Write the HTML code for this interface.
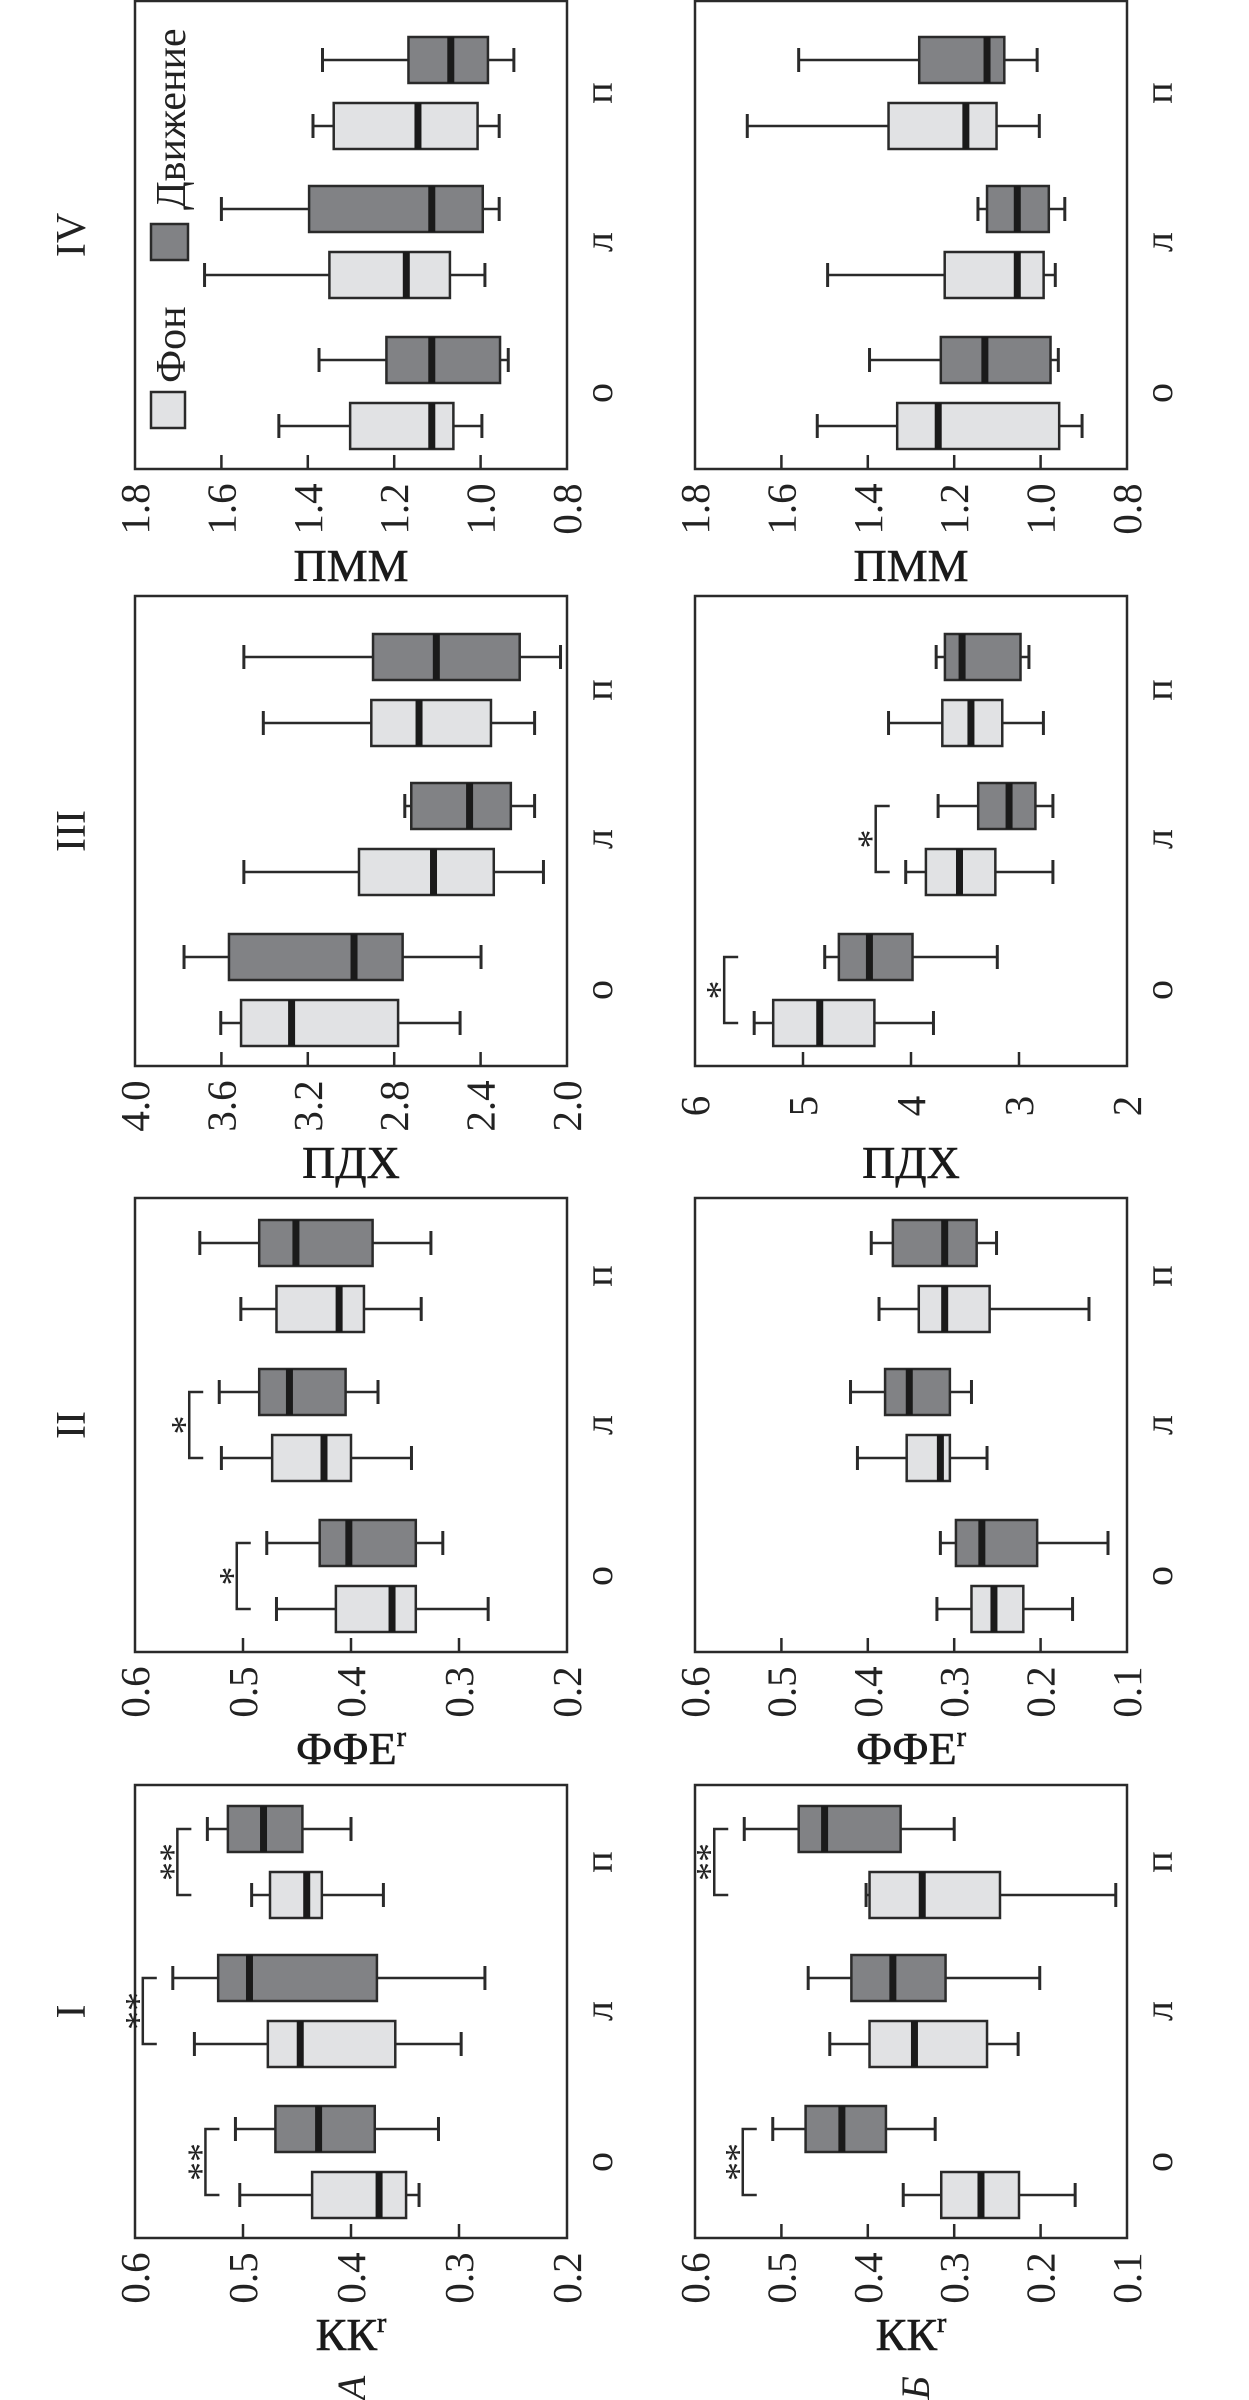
<!DOCTYPE html>
<html><head><meta charset="utf-8"><style>
html,body{margin:0;padding:0;background:#fff;}
svg{display:block;font-family:"Liberation Serif","DejaVu Serif",serif;}
</style></head><body>
<svg id="fig" width="1249" height="2400" viewBox="0 0 1249 2400" xmlns="http://www.w3.org/2000/svg">
<rect x="0" y="0" width="1249" height="2400" fill="#fff"/>
</svg>
<script>
// ---- data: each box = [min, q1, median, q3, max]; categories о, л, п ----
const categories = ["о", "л", "п"];
const seriesNames = ["Фон", "Движение"];
// Row A
const aI_fon  = [[0.337,0.349,0.374,0.436,0.503],[0.298,0.359,0.447,0.477,0.545],[0.370,0.427,0.441,0.475,0.492]];
const aI_dv   = [[0.319,0.378,0.430,0.470,0.507],[0.276,0.376,0.494,0.523,0.565],[0.400,0.445,0.481,0.514,0.533]];
const aII_fon = [[0.273,0.340,0.362,0.414,0.469],[0.344,0.400,0.425,0.473,0.520],[0.335,0.388,0.411,0.469,0.502]];
const aII_dv  = [[0.315,0.340,0.402,0.429,0.478],[0.375,0.405,0.457,0.485,0.522],[0.326,0.380,0.451,0.485,0.540]];
const aIII_fon= [[2.495,2.782,3.275,3.509,3.603],[2.109,2.339,2.618,2.963,3.496],[2.150,2.352,2.685,2.906,3.406]];
const aIII_dv = [[2.398,2.761,2.986,3.565,3.773],[2.150,2.260,2.451,2.721,2.751],[2.030,2.219,2.605,2.898,3.496]];
const aIV_fon = [[0.997,1.063,1.113,1.302,1.467],[0.990,1.071,1.172,1.350,1.639],[0.957,1.007,1.145,1.340,1.388]];
const aIV_dv  = [[0.936,0.955,1.113,1.218,1.374],[0.957,0.995,1.113,1.397,1.600],[0.923,0.983,1.069,1.167,1.366]];
// Row Б
const bI_fon  = [[0.160,0.225,0.269,0.315,0.359],[0.226,0.262,0.346,0.398,0.444],[0.113,0.247,0.337,0.398,0.402]];
const bI_dv   = [[0.322,0.379,0.430,0.472,0.510],[0.201,0.310,0.371,0.419,0.469],[0.300,0.362,0.450,0.480,0.543]];
const bII_fon = [[0.163,0.220,0.254,0.280,0.320],[0.262,0.305,0.316,0.355,0.412],[0.144,0.259,0.311,0.341,0.387]];
const bII_dv  = [[0.122,0.204,0.268,0.298,0.316],[0.280,0.305,0.352,0.380,0.420],[0.251,0.274,0.311,0.371,0.396]];
const bIII_fon= [[3.792,4.339,4.845,5.276,5.452],[2.686,3.219,3.551,3.862,4.049],[2.774,3.155,3.445,3.710,4.208]];
const bIII_dv = [[3.201,3.986,4.385,4.668,4.799],[2.686,2.848,3.092,3.378,3.749],[2.908,2.986,3.527,3.686,3.767]];
const bIV_fon = [[0.904,0.957,1.237,1.332,1.517],[0.966,0.993,1.054,1.222,1.493],[1.003,1.102,1.173,1.352,1.679]];
const bIV_dv  = [[0.959,0.977,1.129,1.231,1.396],[0.944,0.981,1.054,1.124,1.145],[1.008,1.084,1.124,1.281,1.560]];
// tick labels
const ticksPMM = ["1.8","1.6","1.4","1.2","1.0","0.8"];
const ticksHDP_A = ["4.0","3.6","3.2","2.8","2.4","2.0"];
const ticksHDP_B = ["6","5","4","3","2"];
const ticksA = ["0.6","0.5","0.4","0.3","0.2"];
const ticksB = ["0.6","0.5","0.4","0.3","0.2","0.1"];
// significance marks: [category index, stars]
const sigAI = [[0,"**"],[1,"**"],[2,"**"]];
const sigAII = [[0,"*"],[1,"*"]];
const sigBIII = [[0,"*"],[1,"*"]];
const sigBI = [[0,"**"],[2,"**"]];

const NS = "http://www.w3.org/2000/svg";
const svg = document.getElementById("fig");
function mk(tag, attrs, parent){
  const e = document.createElementNS(NS, tag);
  for (const k in attrs) e.setAttribute(k, attrs[k]);
  (parent||svg).appendChild(e);
  return e;
}
const LIGHT="#e1e2e4", DARK="#818285", STROKE="#2a2a2a";

function panel(cfg){
  const g = mk("g", {});
  
  
  const x0 = cfg.x0, x1 = cfg.x0 + 432, yTop = cfg.yTop, yBot = cfg.yBot;
  const vmax = parseFloat(cfg.ticks[0]), vmin = parseFloat(cfg.ticks[cfg.ticks.length-1]);
  const sx = v => x0 + (vmax - v) / (vmax - vmin) * (x1 - x0);
  const catY = [yBot-76, yBot-227, yBot-376];
  const fr = mk("rect", {x:x0, y:yTop, width:x1-x0, height:yBot-yTop, fill:"none", stroke:STROKE, "stroke-width":2.5}, g);
  
  
  // ticks
  cfg.ticks.forEach((t,i)=>{
    const x = sx(parseFloat(t));
    if (i>0 && i<cfg.ticks.length-1){
      const tl = mk("line", {x1:x, x2:x, y1:yBot, y2:yBot-14, stroke:STROKE, "stroke-width":2.5}, g);
      
      
    }
    const tx = mk("text", {transform:`translate(${x+14},${yBot+40}) rotate(-90)`, "text-anchor":"middle", "font-size":41, fill:"#222"}, g);
    tx.textContent = t;
    
    
  });
  // axis title
  const at = mk("text", {x:x0+216, y:yBot+112, "text-anchor":"middle", "font-size":46, fill:"#1a1a1a", stroke:"#1a1a1a", "stroke-width":0.6}, g);
  
  
  if (cfg.sub){
    at.appendChild(document.createTextNode(cfg.title));
    const ts = mk("tspan", {"font-size":28, dy:-18}, at);
    ts.textContent = cfg.sub;
  } else at.textContent = cfg.title;
  // category labels
  categories.forEach((c,i)=>{
    const t = mk("text", {transform:`translate(${x1+45},${catY[i]}) rotate(-90)`, "text-anchor":"middle", "font-size":40, fill:"#222"}, g);
    t.textContent = c;
    
    
  });
  // boxes
  [[cfg.fon, 33, LIGHT, "fon"], [cfg.dv, -33, DARK, "dvizhenie"]].forEach(([data, off, fill, nm])=>{
    data.forEach((b,i)=>{
      const cy = catY[i] + off;
      const bg = mk("g", {}, g);
      
      
      const [mn,q1,md,q3,mx] = b.map(sx);
      mk("line", {x1:mx, x2:q1, y1:cy, y2:cy, stroke:STROKE, "stroke-width":2.5}, bg);
      mk("line", {x1:q3, x2:mn, y1:cy, y2:cy, stroke:STROKE, "stroke-width":2.5}, bg);
      mk("line", {x1:mn, x2:mn, y1:cy-12, y2:cy+12, stroke:STROKE, "stroke-width":3}, bg);
      mk("line", {x1:mx, x2:mx, y1:cy-12, y2:cy+12, stroke:STROKE, "stroke-width":3}, bg);
      mk("rect", {x:q3, y:cy-23, width:q1-q3, height:46, fill:fill, stroke:STROKE, "stroke-width":2.5}, bg);
      mk("rect", {x:md-3.5, y:cy-23, width:7, height:46, fill:"#1a1a1a"}, bg);
    });
  });
  // significance brackets
  (cfg.sig||[]).forEach(([ci, stars])=>{
    const dvMax = Math.min(sx(cfg.fon[ci][4]), sx(cfg.dv[ci][4]));
    const bx = dvMax - 30;
    const ya = catY[ci]+33, yb = catY[ci]-33;
    const sg = mk("g", {}, g);
    
    
    mk("polyline", {points:`${bx+14},${ya} ${bx},${ya} ${bx},${yb} ${bx+14},${yb}`, fill:"none", stroke:STROKE, "stroke-width":2.5}, sg);
    const st = mk("text", {transform:`translate(${bx+8},${catY[ci]}) rotate(-90)`, "text-anchor":"middle", "font-size":38, fill:"#222"}, sg);
    st.textContent = stars;
  });
}

const PY = {IV:[1,469], III:[596,1066], II:[1198,1652], I:[1785,2238]};
panel({name:"panel-a-I", x0:135, yTop:PY.I[0], yBot:PY.I[1], ticks:ticksA, fon:aI_fon, dv:aI_dv, title:"КК", sub:"r", sig:sigAI});
panel({name:"panel-a-II", x0:135, yTop:PY.II[0], yBot:PY.II[1], ticks:ticksA, fon:aII_fon, dv:aII_dv, title:"ФФЕ", sub:"r", sig:sigAII});
panel({name:"panel-a-III", x0:135, yTop:PY.III[0], yBot:PY.III[1], ticks:ticksHDP_A, fon:aIII_fon, dv:aIII_dv, title:"ПДХ"});
panel({name:"panel-a-IV", x0:135, yTop:PY.IV[0], yBot:PY.IV[1], ticks:ticksPMM, fon:aIV_fon, dv:aIV_dv, title:"ПММ"});
panel({name:"panel-b-I", x0:695, yTop:PY.I[0], yBot:PY.I[1], ticks:ticksB, fon:bI_fon, dv:bI_dv, title:"КК", sub:"r", sig:sigBI});
panel({name:"panel-b-II", x0:695, yTop:PY.II[0], yBot:PY.II[1], ticks:ticksB, fon:bII_fon, dv:bII_dv, title:"ФФЕ", sub:"r"});
panel({name:"panel-b-III", x0:695, yTop:PY.III[0], yBot:PY.III[1], ticks:ticksHDP_B, fon:bIII_fon, dv:bIII_dv, title:"ПДХ", sig:sigBIII});
panel({name:"panel-b-IV", x0:695, yTop:PY.IV[0], yBot:PY.IV[1], ticks:ticksPMM, fon:bIV_fon, dv:bIV_dv, title:"ПММ"});

// column titles
const colTitles = ["I","II","III","IV"];
["I","II","III","IV"].forEach((k,i)=>{
  const yc = (PY[k][0]+PY[k][1])/2;
  const t = mk("text", {transform:`translate(85,${yc}) rotate(-90)`, "text-anchor":"middle", "font-size":42, fill:"#222"});
  t.textContent = colTitles[i];
  
  
});
// row labels
[["А",351],["Б",915]].forEach(([s,x])=>{
  const t = mk("text", {transform:`translate(${x+14},2388) rotate(-90)`, "text-anchor":"middle", "font-size":40, "font-style":"italic", fill:"#222"});
  t.textContent = s;
  
  
});
// legend
const lg = mk("g", {});


const l1 = mk("rect", {x:151, y:392, width:34, height:36, fill:LIGHT, stroke:STROKE, "stroke-width":2.5}, lg);


const t1 = mk("text", {transform:"translate(185,383) rotate(-90)", "font-size":42, fill:"#222"}, lg);
t1.textContent = seriesNames[0];


const l2 = mk("rect", {x:151, y:224, width:37, height:36, fill:DARK, stroke:STROKE, "stroke-width":2.5}, lg);


const t2 = mk("text", {transform:"translate(185,210) rotate(-90)", "font-size":42, fill:"#222"}, lg);
t2.textContent = seriesNames[1];


</script>
</body></html>
